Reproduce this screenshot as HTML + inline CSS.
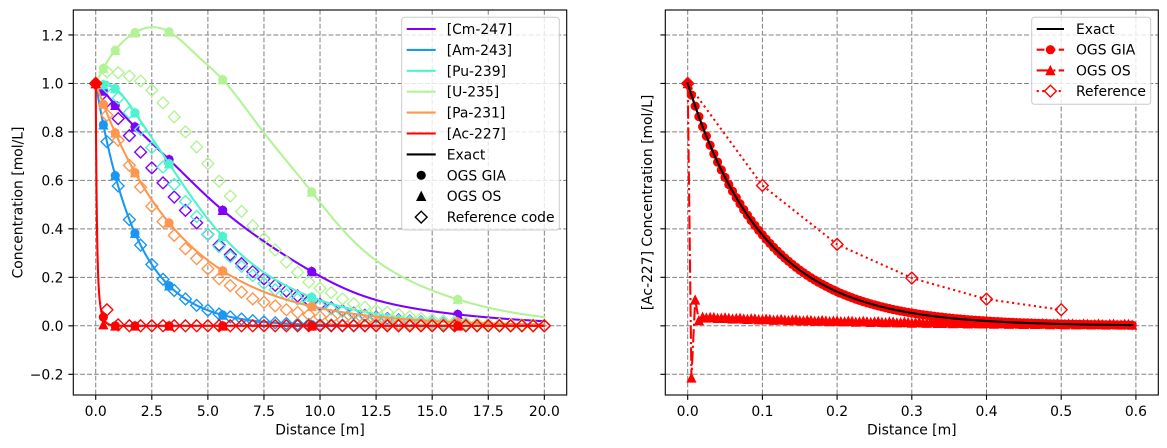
<!DOCTYPE html>
<html><head><meta charset="utf-8"><style>
html,body{margin:0;padding:0;background:#fff;}
svg{display:block;font-family:"DejaVu Sans","Liberation Sans",sans-serif;font-size:13.9px;}
</style></head><body>
<svg id="s" xmlns="http://www.w3.org/2000/svg" width="1167" height="448" viewBox="0 0 1167 448">
<defs>
<clipPath id="cL"><rect x="73.3" y="10" width="493.4" height="385"/></clipPath>
<clipPath id="cR"><rect x="665.3" y="10" width="493" height="385"/></clipPath>
</defs>
<rect width="1167" height="448" fill="#fff"/>

<!-- grids -->
<g stroke="#808080" stroke-width="1" stroke-dasharray="4.8,2.1" fill="none">
<path d="M95.73 10V395M151.8 10V395M207.88 10V395M263.96 10V395M320.03 10V395M376.1 10V395M432.18 10V395M488.25 10V395M544.33 10V395"/>
<path d="M73.3 374.27H566.7M73.3 325.8H566.7M73.3 277.33H566.7M73.3 228.86H566.7M73.3 180.38H566.7M73.3 131.91H566.7M73.3 83.44H566.7M73.3 34.97H566.7"/>
<path d="M687.7 10V395M762.4 10V395M837.1 10V395M911.8 10V395M986.5 10V395M1061.2 10V395M1135.9 10V395"/>
<path d="M665.3 374.27H1158.3M665.3 325.8H1158.3M665.3 277.33H1158.3M665.3 228.86H1158.3M665.3 180.38H1158.3M665.3 131.91H1158.3M665.3 83.44H1158.3M665.3 34.97H1158.3"/>
</g>

<g id="dataL" clip-path="url(#cL)"></g>
<g id="dataR" clip-path="url(#cR)"></g>

<!-- spines -->
<rect x="73.3" y="10" width="493.4" height="385" fill="none" stroke="#000" stroke-width="1.1"/>
<rect x="665.3" y="10" width="493" height="385" fill="none" stroke="#000" stroke-width="1.1"/>

<!-- ticks -->
<g stroke="#000" stroke-width="1.1">
<path d="M95.73 395v4.9M151.8 395v4.9M207.88 395v4.9M263.96 395v4.9M320.03 395v4.9M376.1 395v4.9M432.18 395v4.9M488.25 395v4.9M544.33 395v4.9"/>
<path d="M73.3 374.27h-4.9M73.3 325.8h-4.9M73.3 277.33h-4.9M73.3 228.86h-4.9M73.3 180.38h-4.9M73.3 131.91h-4.9M73.3 83.44h-4.9M73.3 34.97h-4.9"/>
<path d="M687.7 395v4.9M762.4 395v4.9M837.1 395v4.9M911.8 395v4.9M986.5 395v4.9M1061.2 395v4.9M1135.9 395v4.9"/>
<path d="M665.3 374.27h-4.9M665.3 325.8h-4.9M665.3 277.33h-4.9M665.3 228.86h-4.9M665.3 180.38h-4.9M665.3 131.91h-4.9M665.3 83.44h-4.9M665.3 34.97h-4.9"/>
</g>

<!-- tick labels -->
<g fill="#000" text-anchor="middle">
<text x="95.73" y="416">0.0</text>
<text x="151.8" y="416">2.5</text>
<text x="207.88" y="416">5.0</text>
<text x="263.96" y="416">7.5</text>
<text x="320.03" y="416">10.0</text>
<text x="376.1" y="416">12.5</text>
<text x="432.18" y="416">15.0</text>
<text x="488.25" y="416">17.5</text>
<text x="544.33" y="416">20.0</text>
<text x="687.7" y="416">0.0</text>
<text x="762.4" y="416">0.1</text>
<text x="837.1" y="416">0.2</text>
<text x="911.8" y="416">0.3</text>
<text x="986.5" y="416">0.4</text>
<text x="1061.2" y="416">0.5</text>
<text x="1135.9" y="416">0.6</text>
</g>
<g fill="#000" text-anchor="end">
<text x="63.5" y="379.6">−0.2</text>
<text x="63.5" y="331.1">0.0</text>
<text x="63.5" y="282.6">0.2</text>
<text x="63.5" y="234.2">0.4</text>
<text x="63.5" y="185.7">0.6</text>
<text x="63.5" y="137.2">0.8</text>
<text x="63.5" y="88.7">1.0</text>
<text x="63.5" y="40.3">1.2</text>
</g>

<!-- axis labels -->
<text x="320" y="434.5" text-anchor="middle">Distance [m]</text>
<text x="911.8" y="434.5" text-anchor="middle">Distance [m]</text>
<text transform="translate(22.5,202.5) rotate(-90)" text-anchor="middle">Concentration [mol/L]</text>
<text transform="translate(652,202.5) rotate(-90)" text-anchor="middle">[Ac-227] Concentration [mol/L]</text>

<!-- left legend -->
<rect x="401.7" y="17.3" width="157.6" height="212.7" rx="2.8" fill="#fff" fill-opacity="0.8" stroke="#cccccc" stroke-width="1"/>
<g stroke-width="2.08" fill="none">
<path d="M406.7 29H435.7" stroke="#8000ff"/>
<path d="M406.7 49.9H435.7" stroke="#1a96f3"/>
<path d="M406.7 70.8H435.7" stroke="#4df3ce"/>
<path d="M406.7 91.7H435.7" stroke="#b3f396"/>
<path d="M406.7 112.6H435.7" stroke="#ff964f"/>
<path d="M406.7 133.5H435.7" stroke="#ff0000"/>
<path d="M406.7 154.4H435.7" stroke="#000"/>
</g>
<circle cx="421.2" cy="175.3" r="4.6" fill="#000"/>
<polygon points="421.2,192 417,200.4 425.4,200.4" fill="#000" stroke="#000" stroke-width="1.2"/>
<polygon points="421.2,211.2 427.1,217.1 421.2,223 415.3,217.1" fill="none" stroke="#000" stroke-width="1.39"/>
<g fill="#000">
<text x="446.7" y="34">[Cm-247]</text>
<text x="446.7" y="54.9">[Am-243]</text>
<text x="446.7" y="75.8">[Pu-239]</text>
<text x="446.7" y="96.7">[U-235]</text>
<text x="446.7" y="117.6">[Pa-231]</text>
<text x="446.7" y="138.5">[Ac-227]</text>
<text x="446.7" y="159.4">Exact</text>
<text x="446.7" y="180.3">OGS GIA</text>
<text x="446.7" y="201.2">OGS OS</text>
<text x="446.7" y="222.1">Reference code</text>
</g>

<!-- right legend -->
<rect x="1031.7" y="17.3" width="119" height="87" rx="2.8" fill="#fff" fill-opacity="0.8" stroke="#cccccc" stroke-width="1"/>
<path d="M1036.7 29H1064" stroke="#000" stroke-width="2.08"/>
<path d="M1036.7 49.7H1064" stroke="#ff0000" stroke-width="2.08" stroke-dasharray="7.7,3.3"/>
<circle cx="1050.4" cy="49.7" r="4.6" fill="#ff0000"/>
<path d="M1036.7 70.4H1064" stroke="#ff0000" stroke-width="2.08" stroke-dasharray="13.3,3.3,2.1,3.3"/>
<polygon points="1050.4,66.2 1046.2,74.6 1054.6,74.6" fill="#ff0000" stroke="#ff0000" stroke-width="1.2"/>
<path d="M1036.7 91.1H1064" stroke="#ff0000" stroke-width="2.08" stroke-dasharray="2.1,3.4"/>
<polygon points="1050.4,85.2 1056.3,91.1 1050.4,97 1044.5,91.1" fill="#fff" stroke="#ff0000" stroke-width="1.39"/>
<g fill="#000">
<text x="1076" y="34">Exact</text>
<text x="1076" y="54.7">OGS GIA</text>
<text x="1076" y="75.4">OGS OS</text>
<text x="1076" y="96.1">Reference</text>
</g>
</svg>

<script>
(function(){
const NS='http://www.w3.org/2000/svg';
function el(p,t,a){const e=document.createElementNS(NS,t);for(const k in a)e.setAttribute(k,a[k]);p.appendChild(e);return e;}
function nat(pts){
  const n=pts.length,x=pts.map(p=>p[0]),y=pts.map(p=>p[1]);
  const h=[];for(let i=0;i<n-1;i++)h.push(x[i+1]-x[i]);
  const a=new Array(n).fill(0),b=new Array(n).fill(1),c=new Array(n).fill(0),r=new Array(n).fill(0);
  for(let i=1;i<n-1;i++){a[i]=h[i-1];b[i]=2*(h[i-1]+h[i]);c[i]=h[i];r[i]=6*((y[i+1]-y[i])/h[i]-(y[i]-y[i-1])/h[i-1]);}
  for(let i=1;i<n;i++){const w=a[i]/b[i-1];b[i]-=w*c[i-1];r[i]-=w*r[i-1];}
  const M=new Array(n);M[n-1]=r[n-1]/b[n-1];for(let i=n-2;i>=0;i--)M[i]=(r[i]-c[i]*M[i+1])/b[i];
  return function(t){
    if(t<=x[0])return y[0];if(t>=x[n-1])return y[n-1];
    let i=0;while(t>x[i+1])i++;
    const A=(x[i+1]-t)/h[i],B=(t-x[i])/h[i];
    return A*y[i]+B*y[i+1]+((A*A*A-A)*M[i]+(B*B*B-B)*M[i+1])*h[i]*h[i]/6;
  };
}
function logsp(pts){const f=nat(pts.map(p=>[p[0],Math.log(p[1])]));return t=>Math.exp(f(t));}
const LX=x=>95.73+x*22.43, Y=y=>325.8-y*242.36, RX=x=>687.7+x*747;
const gL=document.getElementById('dataL'), gR=document.getElementById('dataR');
function path(g,pts,col,extra){
  const d=pts.map((p,i)=>(i?'L':'M')+p[0].toFixed(2)+' '+p[1].toFixed(2)).join('');
  const a={d:d,fill:'none',stroke:col,'stroke-width':2.08,'stroke-linejoin':'round'};
  if(extra)for(const k in extra)a[k]=extra[k];
  return el(g,'path',a);
}
function circ(g,x,y,c){el(g,'circle',{cx:x.toFixed(2),cy:y.toFixed(2),r:4.6,fill:c});}
function tri(g,x,y,c){const s=4.17;el(g,'polygon',{points:`${x},${y-s} ${x-s},${y+s} ${x+s},${y+s}`,fill:c,stroke:c,'stroke-width':1.2});}
function dia(g,x,y,c){const s=5.9;el(g,'polygon',{points:`${x},${y-s} ${x+s},${y} ${x},${y+s} ${x-s},${y}`,fill:'none',stroke:c,'stroke-width':1.39});}

const cols=['#8000ff','#1a96f3','#4df3ce','#b3f396','#ff964f','#ff0000'];
const ex=[
 logsp([[0,1],[0.34,0.969],[0.87,0.91],[1.75,0.821],[3.27,0.686],[5.66,0.477],[9.63,0.224],[12.45,0.108],[16.14,0.047],[20,0.019]]),
 x=>Math.exp(-0.55*x),
 logsp([[0,1],[0.34,0.995],[0.87,0.979],[1.75,0.879],[3.27,0.669],[5.66,0.369],[9.63,0.118],[16.14,0.015],[20,0.004]]),
 logsp([[0,1],[0.34,1.062],[0.87,1.137],[1.75,1.21],[2.5,1.232],[3.27,1.213],[4.66,1.103],[5.66,1.016],[7.47,0.80],[9.63,0.552],[12.08,0.30],[16.14,0.109],[20,0.036]]),
 x=>Math.exp(-0.262*x),
 x=>0.7*Math.exp(-x/0.045)+0.3*Math.exp(-x/0.15)
];
const ref=[
 x=>Math.exp(-0.1475*x-0.0095*x*x),
 x=>Math.exp(-0.55*x),
 nat([[0,1],[0.5,0.985],[1,0.94],[1.5,0.88],[2,0.81],[2.5,0.735],[3,0.655],[3.5,0.583],[4,0.513],[4.5,0.451],[5,0.378],[5.5,0.327],[6,0.285],[6.5,0.245],[7.5,0.175],[9,0.11],[10.5,0.07],[12,0.04],[14,0.018],[17,0.005],[20,0.001]]),
 nat([[0,1],[0.5,1.048],[1,1.044],[1.5,1.03],[2,1.01],[2.5,0.972],[3,0.92],[3.5,0.862],[4,0.80],[4.5,0.738],[5,0.669],[5.5,0.597],[6,0.535],[6.5,0.472],[7,0.413],[7.5,0.359],[8,0.313],[8.5,0.263],[9,0.221],[9.5,0.18],[10,0.155],[10.5,0.137],[11,0.111],[11.5,0.091],[12,0.077],[12.5,0.063],[13,0.056],[14,0.038],[15,0.025],[16,0.016],[17,0.01],[18,0.006],[19,0.004],[20,0.002]]),
 nat([[0,1],[0.5,0.869],[1,0.766],[1.5,0.662],[2,0.572],[2.5,0.493],[3,0.43],[3.5,0.373],[4,0.318],[4.5,0.277],[5,0.235],[5.5,0.194],[6,0.166],[6.5,0.139],[7,0.111],[7.5,0.097],[8,0.082],[8.5,0.066],[9,0.055],[10,0.037],[11,0.024],[12,0.015],[14,0.006],[16,0.002],[20,0]]),
 x=>(x===0?1:(x===0.5?0.066:(x===1?0.004:0)))
];
const XG=[0,0.34,0.87,1.75,3.27,5.66,9.63,16.14];
for(let s=0;s<6;s++){
  const c=cols[s];
  const pts=[];
  if(s===5){for(let x=0;x<=1;x+=0.002)pts.push([LX(x),Y(ex[s](x))]);for(let x=1.02;x<=20.001;x+=0.05)pts.push([LX(x),Y(ex[s](x))]);}
  else{for(let i=0;i<=1000;i++){const x=i*0.02;pts.push([LX(x),Y(ex[s](x))]);}}
  path(gL,pts,c,{'stroke-linecap':'square'});
  XG.forEach((x,i)=>{let v=ex[s](x);if(s===5)v=(i===0?1:(i===1?0.036:0));circ(gL,LX(x),Y(v),c);});
  XG.forEach((x,i)=>{let v=ex[s](x);if(s===5)v=(i===0?1:(i===1?0.005:0));tri(gL,LX(x),Y(v),c);});
  for(let i=0;i<=40;i++){const x=i*0.5;dia(gL,LX(x),Y(ref[s](x)),c);}
}

// Right plot
const red='#ff0000';
const exR=x=>Math.exp(-x/0.102);
const gia=[];for(let i=0;i<=119;i++){const x=i*0.005;gia.push([RX(x),Y(exR(x))]);}
path(gR,gia,red,{'stroke-dasharray':'7.7,3.3'});
gia.forEach(p=>circ(gR,p[0],p[1],red));
const os=[[0,1],[0.005,-0.215],[0.01,0.107],[0.015,0.022],[0.02,0.036]];
for(let i=5;i<=119;i++){const x=i*0.005;os.push([x,0.035*Math.exp(-(x-0.02)/0.3)-0.002*Math.sin(i*1.7)]);}
const osP=os.map(p=>[RX(p[0]),Y(p[1])]);
path(gR,osP,red,{'stroke-dasharray':'13.3,3.3,2.1,3.3'});
osP.forEach(p=>tri(gR,p[0],p[1],red));
const rf=[[0,1],[0.1,0.579],[0.2,0.336],[0.3,0.197],[0.4,0.11],[0.5,0.066]].map(p=>[RX(p[0]),Y(p[1])]);
path(gR,rf,red,{'stroke-dasharray':'2.1,3.4'});
rf.forEach(p=>dia(gR,p[0],p[1],red));
const exP=[];for(let i=0;i<=595;i++){const x=i*0.001;exP.push([RX(x),Y(exR(x))]);}
path(gR,exP,'#000',{'stroke-linecap':'square'});
})();
</script>
</body></html>
